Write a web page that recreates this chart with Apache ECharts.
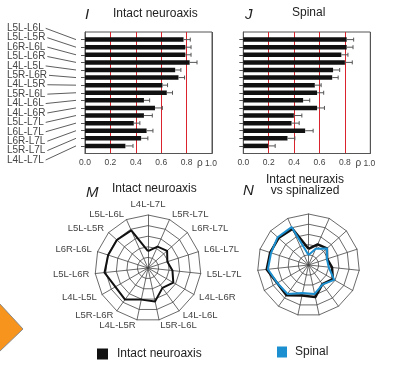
<!DOCTYPE html>
<html><head><meta charset="utf-8">
<script src="https://cdn.jsdelivr.net/npm/echarts@6/dist/echarts.min.js"></script>
<style>html,body{margin:0;padding:0;background:#fff}#c{width:398px;height:372px}</style>
</head><body><div id="c"></div>
<script>
// ---- data ----
const categories = ['L5L-L6L','L5L-L5R','L6R-L6L','L5L-L6R','L4L-L5L','L5R-L6R','L4L-L5R','L5R-L6L','L4L-L6L','L4L-L6R','L5L-L7L','L6L-L7L','L6R-L7L','L5R-L7L','L4L-L7L'];
const intactValues = [0.776,0.79,0.79,0.824,0.71,0.736,0.61,0.644,0.464,0.551,0.464,0.384,0.485,0.442,0.318];
const intactErrors = [0.053,0.045,0.045,0.058,0.045,0.048,0.04,0.045,0.045,0.058,0.066,0.048,0.05,0.053,0.06];
const spinalValues = [0.814,0.814,0.772,0.80,0.707,0.70,0.563,0.581,0.471,0.581,0.398,0.38,0.487,0.348,0.196];
const spinalErrors = [0.055,0.05,0.052,0.058,0.052,0.047,0.05,0.052,0.052,0.058,0.063,0.06,0.063,0.058,0.055];
const xTicks = [0, 0.2, 0.4, 0.6, 0.8, 1.0];
const seriesNames = ['Intact neuroaxis', 'Spinal'];

// ---- derived ----
const FONT = '"Liberation Sans", Arial, sans-serif';
const RED = '#d9232d', FRAME = '#555', BLUE = '#1b8fcf', BLACK = '#111';
const yCats = [' '].concat(categories, ['  ']);
const radarOrder = [categories.length - 1].concat(categories.slice(0, categories.length - 1).map((c, i) => i));
const radarIndicators = radarOrder.map(i => ({ name: categories[i], min: 0, max: 1 }));
const intactRadar = radarOrder.map(i => intactValues[i]);
const spinalRadar = radarOrder.map(i => spinalValues[i]);

function barGrid(left) { return { left: left, top: 32, width: 127, height: 121.5, show: true, borderColor: FRAME, borderWidth: 1 }; }
function xAx(g) {
  return { gridIndex: g, type: 'value', min: xTicks[0], max: xTicks[xTicks.length - 1], interval: 0.2,
    axisLine: { show: true, lineStyle: { color: FRAME, width: 1 } }, axisTick: { show: false },
    splitLine: { show: true, lineStyle: { color: [FRAME, RED, RED, RED, RED, FRAME], width: 1 } },
    axisLabel: { fontSize: 8.5, color: '#444', margin: 5, fontFamily: FONT,
      formatter: v => v === 1 ? '{p|ρ}{v|1.0}{s|}' : v.toFixed(1),
      rich: { p: { fontSize: 10, lineHeight: 10, width: 8, align: 'left', color: '#444', fontFamily: FONT },
              v: { fontSize: 8.5, lineHeight: 10, color: '#444', fontFamily: FONT },
              s: { width: 10, lineHeight: 10 } } } };
}
function yAx(g) {
  return { gridIndex: g, type: 'category', inverse: true, boundaryGap: false, data: yCats,
    axisLine: { show: true, lineStyle: { color: FRAME } },
    axisTick: { show: true, length: 4, interval: (i) => i > 0 && i < yCats.length - 1, lineStyle: { color: FRAME } },
    axisLabel: { show: false }, splitLine: { show: false } };
}
function barSeries(g, vals, name) {
  return { type: 'bar', name: name, xAxisIndex: g, yAxisIndex: g, barWidth: 4.5, z: 2,
    itemStyle: { color: BLACK }, data: [null].concat(vals, [null]), silent: true };
}
function errSeries(g, vals, errs) {
  return { type: 'custom', xAxisIndex: g, yAxisIndex: g, z: 3, silent: true,
    encode: { x: 0, y: 1 },
    data: vals.map((v, i) => [v, i + 1, errs[i]]),
    renderItem(params, api) {
      const v = api.value(0), y = api.value(1), e = api.value(2);
      const p0 = api.coord([v, y]), p1 = api.coord([v + e, y]);
      const h = 2;
      return { type: 'group', children: [
        { type: 'line', shape: { x1: p0[0], y1: p0[1], x2: p1[0], y2: p1[1] }, style: { stroke: '#555', lineWidth: 1 } },
        { type: 'line', shape: { x1: p1[0], y1: p1[1] - h, x2: p1[0], y2: p1[1] + h }, style: { stroke: '#555', lineWidth: 1 } }
      ] };
    } };
}
function radarCfg(center, radius, showNames) {
  return { center: center, radius: radius, startAngle: 90, splitNumber: 5, shape: 'polygon',
    indicator: radarIndicators,
    axisName: { show: showNames, color: '#444', fontSize: 9.5, fontFamily: '"Liberation Sans Narrow", ' + FONT },
    nameGap: 6,
    splitLine: { lineStyle: { color: '#444', width: 0.8 } },
    splitArea: { show: false },
    axisLine: { lineStyle: { color: '#444', width: 0.8 } },
    axisTick: { show: false }, axisLabel: { show: false } };
}
function txt(id, text, x, y, font, align) {
  return { type: 'text', id: id, x: x, y: y, silent: true,
    style: { text: text, font: font, fill: '#222', align: align || 'left', verticalAlign: 'middle' } };
}

const option = {
  animation: false,
  textStyle: { fontFamily: FONT },
  grid: [barGrid(85), barGrid(243.3), { left: 7, top: 28.3, width: 40, height: 131.7, show: false }],
  xAxis: [xAx(0), xAx(1), { gridIndex: 2, type: 'value', min: 0, max: 1, show: false }],
  yAxis: [yAx(0), yAx(1), { gridIndex: 2, type: 'category', inverse: true, boundaryGap: false, data: categories,
    axisLine: { show: false }, axisTick: { show: false }, splitLine: { show: false },
    axisLabel: { show: true, interval: 0, align: 'left', margin: 0, fontSize: 10, color: '#444', fontFamily: FONT } }],
  radar: [radarCfg([148, 268], 53, true), radarCfg([308.5, 265], 51, false)],
  legend: [
    { data: [seriesNames[0]], left: 97, top: 348, itemWidth: 11, itemHeight: 11, icon: 'rect', padding: 0,
      textStyle: { fontSize: 12, color: '#222', padding: [0, 0, 0, 4] } },
    { data: [seriesNames[1]], left: 277, top: 346, itemWidth: 10, itemHeight: 11, icon: 'rect', padding: 0,
      textStyle: { fontSize: 12, color: '#222', padding: [0, 0, 0, 3] } }
  ],
  series: [
    barSeries(0, intactValues, seriesNames[0]), errSeries(0, intactValues, intactErrors),
    barSeries(1, spinalValues, seriesNames[1] + ' bars'), errSeries(1, spinalValues, spinalErrors),
    { type: 'radar', radarIndex: 0, symbol: 'none', silent: true,
      data: [{ name: seriesNames[0], value: intactRadar, lineStyle: { color: BLACK, width: 2 }, itemStyle: { color: BLACK } }] },
    { type: 'radar', radarIndex: 1, symbol: 'none', silent: true,
      data: [
        { name: seriesNames[0], value: intactRadar, lineStyle: { color: BLACK, width: 2.5 }, itemStyle: { color: BLACK } },
        { name: seriesNames[1], value: spinalRadar, lineStyle: { color: BLUE, width: 2 }, itemStyle: { color: BLUE } }
      ] }
  ],
  graphic: [
    txt('tI', 'I', 85, 15, 'italic 15px ' + FONT),
    txt('tI2', 'Intact neuroaxis', 113, 13.5, '12px ' + FONT),
    txt('tJ', 'J', 245, 15, 'italic 15px ' + FONT),
    txt('tJ2', 'Spinal', 292, 13, '12px ' + FONT),
    txt('tM', 'M', 86, 193, 'italic 15px ' + FONT),
    txt('tM2', 'Intact neuroaxis', 112, 188.5, '12px ' + FONT),
    txt('tN', 'N', 243, 190.5, 'italic 15px ' + FONT),
    txt('tN2', 'Intact neuraxis', 305, 179.5, '12px ' + FONT, 'center'),
    txt('tN3', 'vs spinalized', 305, 191, '12px ' + FONT, 'center'),
    { type: 'polygon', id: 'arrow', silent: true, shape: { points: [[-1, 303], [23, 329], [-1, 352]] },
      style: { fill: '#f7941d', stroke: '#8a8a8a', lineWidth: 1 } }
  ]
};

const chart = echarts.init(document.getElementById('c'), null, { renderer: 'canvas' });
chart.setOption(option);

// leader lines from the label list to the bar ticks
const ctx = document.createElement('canvas').getContext('2d');
ctx.font = '10px ' + FONT;
const leaders = categories.map((c, i) => {
  const lp = chart.convertToPixel({ gridIndex: 2 }, [0, i]);
  const bp = chart.convertToPixel({ gridIndex: 0 }, [0, i + 1]);
  const sx = lp[0] + ctx.measureText(c).width + 2;
  return { type: 'line', id: 'lead' + i, silent: true,
    shape: { x1: sx, y1: lp[1], x2: bp[0] - 9, y2: bp[1] }, style: { stroke: '#333', lineWidth: 0.8 } };
});
chart.setOption({ graphic: leaders });
</script></body></html>
